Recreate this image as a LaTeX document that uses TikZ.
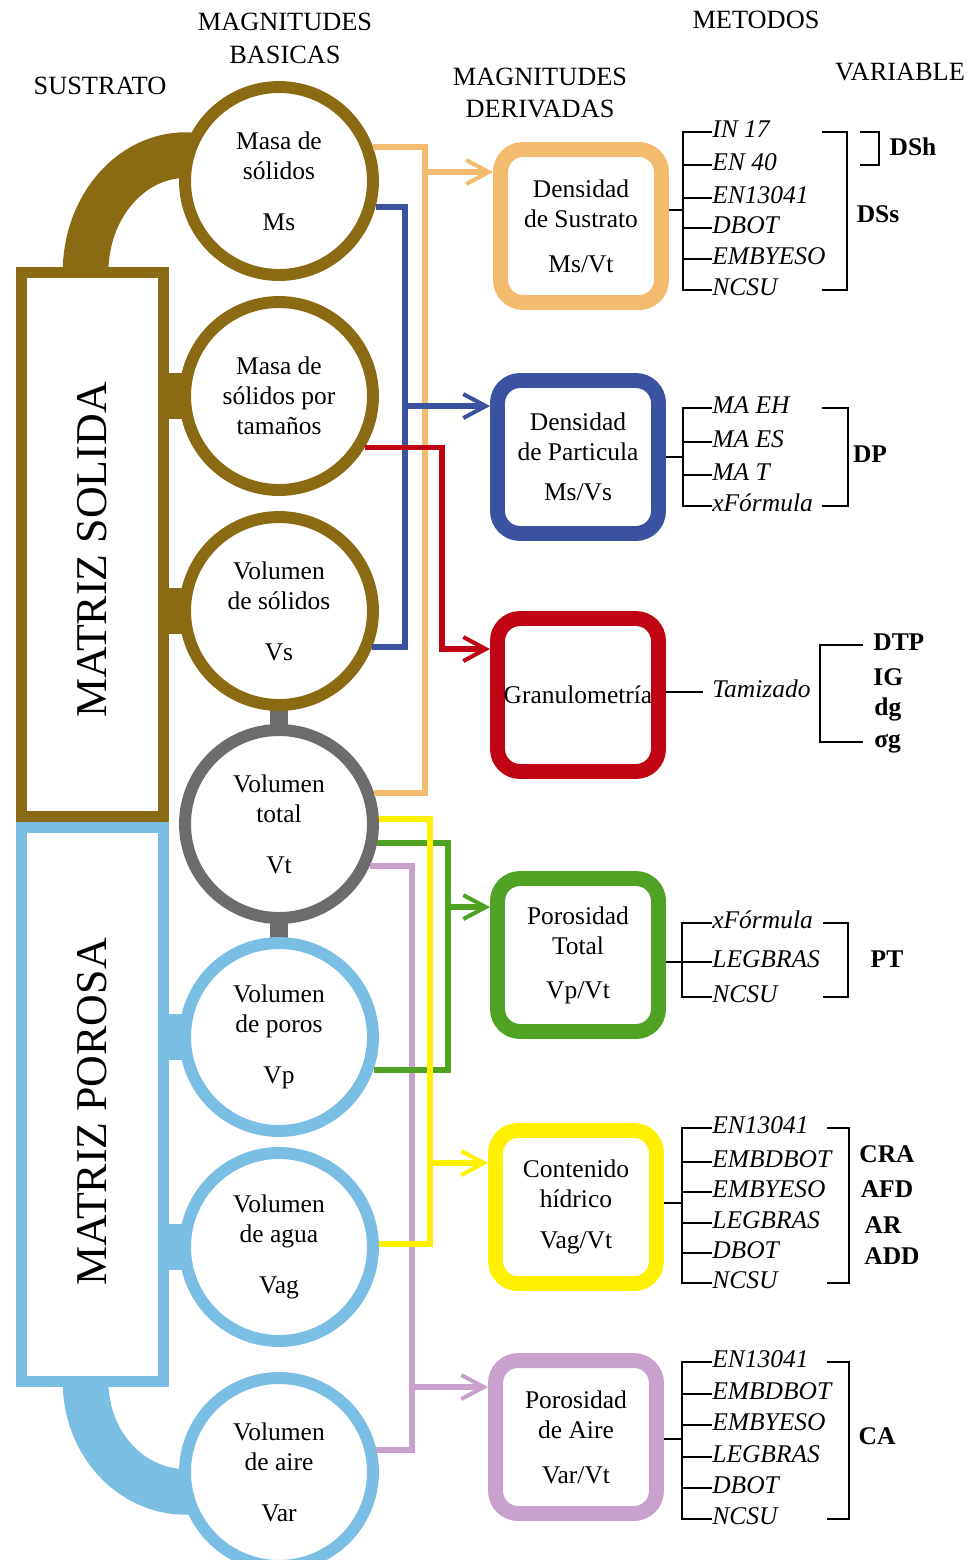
\documentclass[tikz,border=0pt]{standalone}
\usepackage{fontspec}
\setmainfont{Liberation Serif}
\usetikzlibrary{arrows.meta,backgrounds}
\definecolor{cbrown}{RGB}{139,106,20}
\definecolor{cgrey}{RGB}{108,108,108}
\definecolor{csky}{RGB}{122,190,228}
\definecolor{corange}{RGB}{242,187,110}
\definecolor{cblue}{RGB}{58,82,160}
\definecolor{cred}{RGB}{192,4,20}
\definecolor{cgreen}{RGB}{80,162,36}
\definecolor{cyellow}{RGB}{255,240,0}
\definecolor{clilac}{RGB}{200,162,204}
\tikzset{
	hdr/.style={font=\fontsize{15}{18.7}\selectfont, align=center},
	ring/.style={circle, draw=#1, line width=6.8pt, fill=white, minimum size=3.76cm, inner sep=0pt, align=center, font=\fontsize{14.5}{17}\selectfont},
	derived/.style={rounded corners=0.45cm, draw=#1, line width=8.5pt, fill=white, minimum width=3.22cm, minimum height=3.06cm, inner sep=2pt, align=center, font=\fontsize{14.5}{17}\selectfont},
	matbox/.style={draw=#1, line width=6.2pt, fill=white, minimum width=2.84cm, inner sep=0pt},
	mattext/.style={font=\fontsize{25}{30}\selectfont},
	stub/.style={draw=#1, line width=26pt},
	gstub/.style={draw=cgrey, line width=10.2pt},
	conn/.style={draw=#1, line width=3.4pt},
	arr/.style={-{Straight Barb[length=0.45cm, width=0.48cm, line width=2.3pt]}},
	method/.style={font=\fontsize{14.5}{17}\selectfont\itshape, anchor=west, inner sep=0pt, text height=0.66em, text depth=0pt},
	varlab/.style={font=\fontsize{14.5}{17}\selectfont\bfseries, inner sep=0pt, text height=0.66em, text depth=0pt},
	bracket/.style={line width=1.2pt}
}
\begin{document}
\begin{tikzpicture}[x=0.02cm, y=-0.02cm]
	\useasboundingbox (0,0) rectangle (974,1560);
	
	\node[hdr] (hsus) at (100,86) {SUSTRATO};
	\node[hdr] (hbas) at (285,38) {MAGNITUDES\\BASICAS};
	\node[hdr] (hder) at (540,93) {MAGNITUDES\\DERIVADAS};
	\node[hdr] (hmet) at (756,20) {METODOS};
	\node[hdr] (hvar) at (900,72) {VARIABLE};
	
	\node[matbox=cbrown, minimum height=10.88cm] (msol) at (92.5,544.5) {};
	\node[mattext, rotate=90] (msoltxt) at (92,550) {MATRIZ SOLIDA};
	\node[matbox=csky, minimum height=11.08cm] (mpor) at (92.5,1104.5) {};
	\node[mattext, rotate=90] (mportxt) at (92,1112) {MATRIZ POROSA};
	
	\node[ring=cbrown] (ms) at (279,181) {Masa de\\sólidos\\[0.42cm]Ms};
	\node[ring=cbrown] (mtam) at (279,396) {Masa de\\sólidos por\\tamaños};
	\node[ring=cbrown] (vs) at (279,611) {Volumen\\de sólidos\\[0.42cm]Vs};
	\node[ring=cgrey] (vt) at (279,824) {Volumen\\total\\[0.42cm]Vt};
	\node[ring=csky] (vp) at (279,1037) {Volumen\\de poros\\[0.42cm]Vp};
	\node[ring=csky] (vag) at (279,1247) {Volumen\\de agua\\[0.42cm]Vag};
	\node[ring=csky] (var) at (279,1472) {Volumen\\de aire\\[0.42cm]Var};
	
	\node[derived=corange] (dsus) at (581,226) {Densidad\\de Sustrato\\[0.3cm]Ms/Vt};
	\node[derived=cblue] (dpar) at (578,457) {Densidad\\de Particula\\[0.2cm]Ms/Vs};
	\node[derived=cred] (gran) at (578,695) {Granulometría};
	\node[derived=cgreen] (ptot) at (578,955) {Porosidad\\Total\\[0.28cm]Vp/Vt};
	\node[derived=cyellow] (chid) at (576,1207) {Contenido\\hídrico\\[0.22cm]Vag/Vt};
	\node[derived=clilac] (pair) at (576,1437) {Porosidad\\de Aire\\[0.3cm]Var/Vt};
	
	\begin{scope}[on background layer]
		\draw[stub=cbrown] (msol.center |- mtam.center) -- (mtam.center);
		\draw[stub=cbrown] (msol.center |- vs.center) -- (vs.center);
		\draw[stub=csky] (mpor.center |- vp.center) -- (vp.center);
		\draw[stub=csky] (mpor.center |- vag.center) -- (vag.center);
		\draw[gstub] (vs.center) -- (vt.center);
		\draw[gstub] (vt.center) -- (vp.center);
		\draw[stub=cbrown] ([shift={(69.5,5)}]msol.north west) arc[start angle=180, end angle=90, x radius=2cm, y radius=2.34cm] -- ++(40,0);
		\draw[stub=csky] ([shift={(69.5,-5)}]mpor.south west) arc[start angle=180, end angle=270, x radius=2cm, y radius=2.2cm] -- ++(40,0);
	\end{scope}
	
	\coordinate (xbl) at (405,0);
	\coordinate (xli) at (412,0);
	\coordinate (xor) at (425,0);
	\coordinate (xye) at (430,0);
	\coordinate (xrd) at (442,0);
	\coordinate (xgr) at (448,0);
	\coordinate (dsusin) at ([yshift=-0.6cm]dsus.north west);
	\coordinate (dparin) at ([yshift=-0.66cm]dpar.north west);
	\coordinate (granin) at ([yshift=-0.76cm]gran.north west);
	\coordinate (ptotin) at ([yshift=-0.72cm]ptot.north west);
	\coordinate (chidin) at ([yshift=-0.8cm]chid.north west);
	\coordinate (pairin) at ([yshift=-0.68cm]pair.north west);
	
	\draw[conn=corange] (ms.20) -| (xor |- vt.18) -- (vt.18);
	\draw[conn=corange, arr] (xor |- dsusin) -- (dsusin);
	\draw[conn=cblue] (ms.-15) -| (xbl |- vs.-21) -- (vs.-21);
	\draw[conn=cblue, arr] (xbl |- dparin) -- (dparin);
	\draw[conn=cred, arr] (mtam.-31) -| (xrd |- granin) -- (granin);
	\draw[conn=clilac] (vt.-25) -| (xli |- var.13) -- (var.13);
	\draw[conn=clilac, arr] (xli |- pairin) -- (pairin);
	\draw[conn=cgreen] (vt.-11) -| (xgr |- vp.-19) -- (vp.-19);
	\draw[conn=cgreen, arr] (xgr |- ptotin) -- (ptotin);
	\draw[conn=cyellow] (vt.3) -| (xye |- vag.2) -- (vag.2);
	\draw[conn=cyellow, arr] (xye |- chidin) -- (chidin);
	
	\node[method] (m11) at (712,132) {IN 17};
	\node[method] (m12) at (712,165) {EN 40};
	\node[method] (m13) at (712,198) {EN13041};
	\node[method] (m14) at (712,228) {DBOT};
	\node[method] (m15) at (712,259) {EMBYESO};
	\node[method] (m16) at (712,290) {NCSU};
	\coordinate (b1) at (683,210);
	\draw[bracket] (dsus.east |- b1) -- (b1);
	\draw[bracket] (m11.west) -| (b1) |- (m16.west);
	\draw[bracket] (b1 |- m12.west) -- (m12.west);
	\draw[bracket] (b1 |- m13.west) -- (m13.west);
	\draw[bracket] (b1 |- m14.west) -- (m14.west);
	\draw[bracket] (b1 |- m15.west) -- (m15.west);
	\draw[bracket] (822,0 |- m11.west) -| (847,0 |- m16.west) -- (822,0 |- m16.west);
	\draw[bracket] (860,0 |- m11.west) -| (879,0 |- m12.west) -- (860,0 |- m12.west);
	\node[varlab] (dsh) at (913,150) {DSh};
	\node[varlab] (dss) at (878,217) {DSs};
	
	\node[method] (m21) at (712,408) {MA EH};
	\node[method] (m22) at (712,442) {MA ES};
	\node[method] (m23) at (712,475) {MA T};
	\node[method] (m24) at (712,506) {xFórmula};
	\coordinate (b2) at (683,457);
	\draw[bracket] (dpar.east |- b2) -- (b2);
	\draw[bracket] (m21.west) -| (b2) |- (m24.west);
	\draw[bracket] (b2 |- m22.west) -- (m22.west);
	\draw[bracket] (b2 |- m23.west) -- (m23.west);
	\draw[bracket] (822,0 |- m21.west) -| (848,0 |- m24.west) -- (822,0 |- m24.west);
	\node[varlab] (dp) at (870,457) {DP};
	
	\node[method] (tam) at (712,692) {Tamizado};
	\draw[bracket] (gran.east |- tam.west) -- ([xshift=-0.18cm]tam.west);
	\node[varlab, anchor=west] (dtp) at (873,645) {DTP};
	\node[varlab, anchor=west] (ig) at (873,680) {IG};
	\node[varlab, anchor=west] (dg) at (874,710) {dg};
	\node[varlab, anchor=west] (sg) at (874,742) {σg};
	\draw[bracket] (863,0 |- dtp.west) -| (820,0 |- sg.west) -- (863,0 |- sg.west);
	
	\node[method] (m41) at (712,923) {xFórmula};
	\node[method] (m42) at (712,962) {LEGBRAS};
	\node[method] (m43) at (712,997) {NCSU};
	\coordinate (b4) at (682,962);
	\draw[bracket] (ptot.east |- b4) -- (b4);
	\draw[bracket] (m41.west) -| (b4) |- (m43.west);
	\draw[bracket] (b4) -- (m42.west);
	\draw[bracket] (823,0 |- m41.west) -| (848,0 |- m43.west) -- (823,0 |- m43.west);
	\node[varlab] (pt) at (887,962) {PT};
	
	\node[method] (m51) at (712,1128) {EN13041};
	\node[method] (m52) at (712,1162) {EMBDBOT};
	\node[method] (m53) at (712,1192) {EMBYESO};
	\node[method] (m54) at (712,1223) {LEGBRAS};
	\node[method] (m55) at (712,1253) {DBOT};
	\node[method] (m56) at (712,1283) {NCSU};
	\coordinate (b5) at (682,1203);
	\draw[bracket] (chid.east |- b5) -- (b5);
	\draw[bracket] (m51.west) -| (b5) |- (m56.west);
	\draw[bracket] (b5 |- m52.west) -- (m52.west);
	\draw[bracket] (b5 |- m53.west) -- (m53.west);
	\draw[bracket] (b5 |- m54.west) -- (m54.west);
	\draw[bracket] (b5 |- m55.west) -- (m55.west);
	\draw[bracket] (827,0 |- m51.west) -| (849,0 |- m56.west) -- (827,0 |- m56.west);
	\node[varlab] (cra) at (887,1157) {CRA};
	\node[varlab] (afd) at (887,1192) {AFD};
	\node[varlab] (ar) at (883,1228) {AR};
	\node[varlab] (add) at (892,1259) {ADD};
	
	\node[method] (m61) at (712,1362) {EN13041};
	\node[method] (m62) at (712,1394) {EMBDBOT};
	\node[method] (m63) at (712,1425) {EMBYESO};
	\node[method] (m64) at (712,1457) {LEGBRAS};
	\node[method] (m65) at (712,1488) {DBOT};
	\node[method] (m66) at (712,1519) {NCSU};
	\coordinate (b6) at (682,1439);
	\draw[bracket] (pair.east |- b6) -- (b6);
	\draw[bracket] (m61.west) -| (b6) |- (m66.west);
	\draw[bracket] (b6 |- m62.west) -- (m62.west);
	\draw[bracket] (b6 |- m63.west) -- (m63.west);
	\draw[bracket] (b6 |- m64.west) -- (m64.west);
	\draw[bracket] (b6 |- m65.west) -- (m65.west);
	\draw[bracket] (827,0 |- m61.west) -| (849,0 |- m66.west) -- (827,0 |- m66.west);
	\node[varlab] (ca) at (877,1439) {CA};
\end{tikzpicture}
\end{document}
